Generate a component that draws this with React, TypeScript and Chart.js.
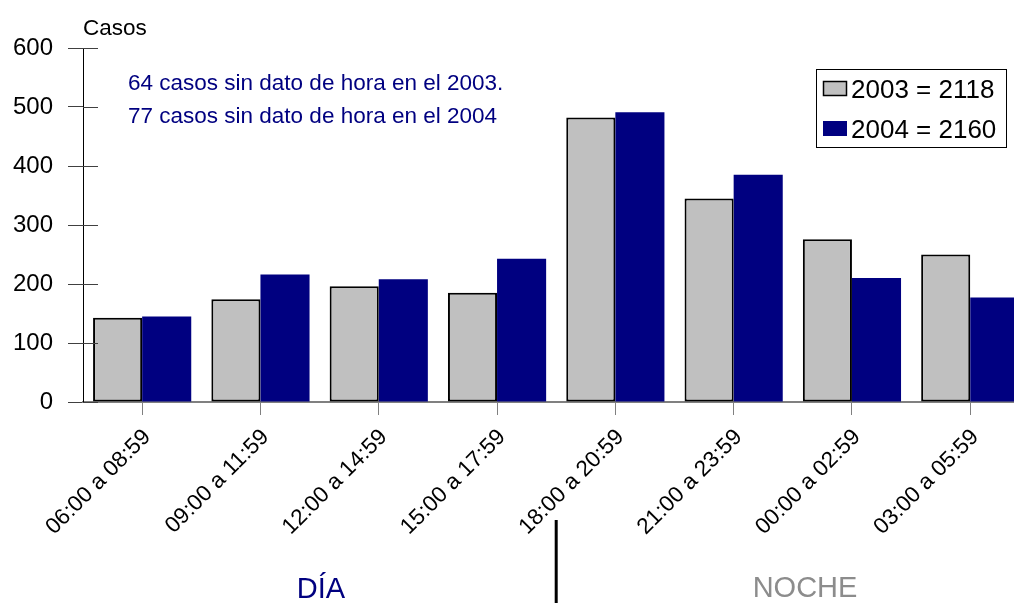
import React, { useEffect, useRef } from "react";
import { Chart, registerables } from "chart.js";

Chart.register(...registerables);

const categories = [
  "06:00 a 08:59",
  "09:00 a 11:59",
  "12:00 a 14:59",
  "15:00 a 17:59",
  "18:00 a 20:59",
  "21:00 a 23:59",
  "00:00 a 02:59",
  "03:00 a 05:59",
];
const values2003 = [143, 174, 196, 185, 482, 345, 276, 250];
const values2004 = [145, 216, 208, 243, 491, 385, 210, 177];
const seriesLabels = ["2003 = 2118", "2004 = 2160"];
const seriesColors = ["#C0C0C0", "#000080"];
const yTicks = [0, 100, 200, 300, 400, 500, 600];
const yAxisTitle = "Casos";
const notes = [
  "64 casos sin dato de hora en el 2003.",
  "77 casos sin dato de hora en el 2004",
];
const periodLabels = ["DÍA", "NOCHE"];

const FONT = "'Liberation Sans', Arial, sans-serif";

const overlay = {
  id: "overlay",
  afterDraw(chart: any) {
    const ctx = chart.ctx as CanvasRenderingContext2D;
    const area = chart.chartArea;
    const y = chart.scales.y;
    const x = chart.scales.x;
    ctx.save();

    // inner halves of y tick marks
    ctx.strokeStyle = "#404040";
    ctx.lineWidth = 1;
    yTicks.forEach((v) => {
      const py = Math.round(y.getPixelForValue(v)) + 0.5;
      ctx.beginPath();
      ctx.moveTo(area.left, py);
      ctx.lineTo(area.left + 15, py);
      ctx.stroke();
    });

    // axis title
    ctx.fillStyle = "#000";
    ctx.font = `22.5px ${FONT}`;
    ctx.textAlign = "left";
    ctx.textBaseline = "alphabetic";
    ctx.fillText(yAxisTitle, 83, 35);

    // notes
    ctx.fillStyle = "#000080";
    ctx.font = `22.5px ${FONT}`;
    ctx.fillText(notes[0], 128, 90);
    ctx.fillText(notes[1], 128, 123);

    // legend box
    const lx = 816, ly = 69, lw = 190, lh = 78;
    ctx.fillStyle = "#fff";
    ctx.fillRect(lx, ly, lw, lh);
    ctx.strokeStyle = "#000";
    ctx.lineWidth = 1;
    ctx.strokeRect(lx + 0.5, ly + 0.5, lw, lh);
    ctx.font = `26px ${FONT}`;
    seriesLabels.forEach((lab, i) => {
      const sy = 81 + i * 40;
      ctx.fillStyle = seriesColors[i];
      ctx.fillRect(823, sy, 24, 15);
      if (i === 0) {
        ctx.strokeStyle = "#000";
        ctx.lineWidth = 1.5;
        ctx.strokeRect(823.5, sy + 0.5, 23, 14);
      }
      ctx.fillStyle = "#000";
      ctx.fillText(lab, 851, 98 + i * 40);
    });

    // divider between day and night
    const divX = (x.getPixelForValue(3) + x.getPixelForValue(4)) / 2;
    ctx.strokeStyle = "#000";
    ctx.lineWidth = 3;
    ctx.beginPath();
    ctx.moveTo(divX, 520);
    ctx.lineTo(divX, 603);
    ctx.stroke();

    // period labels
    ctx.font = `29px ${FONT}`;
    ctx.textAlign = "center";
    ctx.fillStyle = "#000080";
    ctx.fillText(periodLabels[0], 321, 598);
    ctx.fillStyle = "#8C8C8C";
    ctx.fillText(periodLabels[1], 805, 597);

    ctx.restore();
  },
};

export default function App() {
  const ref = useRef<HTMLCanvasElement>(null);

  useEffect(() => {
    if (!ref.current) return;
    const chart = new Chart(ref.current, {
      type: "bar",
      data: {
        labels: categories,
        datasets: [
          {
            label: seriesLabels[0],
            data: values2003,
            backgroundColor: seriesColors[0],
            borderColor: "#000",
            borderWidth: 2,
            borderSkipped: false,
          },
          {
            label: seriesLabels[1],
            data: values2004,
            backgroundColor: seriesColors[1],
            borderWidth: 0,
          },
        ],
      },
      options: {
        animation: false,
        responsive: false,
        devicePixelRatio: 1,
        layout: { padding: { left: 0, top: 48, right: 10.6, bottom: 0 } },
        datasets: {
          bar: { categoryPercentage: 0.83, barPercentage: 1 },
        },
        plugins: {
          legend: { display: false },
          tooltip: { enabled: false },
          title: { display: false },
        },
        scales: {
          x: {
            afterFit: (s: any) => {
              s.height = 201;
            },
            grid: {
              offset: false,
              drawOnChartArea: false,
              tickLength: 13,
              color: "#808080",
              lineWidth: 1,
            },
            border: { color: "#808080", width: 2 },
            ticks: {
              autoSkip: false,
              maxRotation: 45,
              minRotation: 45,
              padding: 9,
              labelOffset: 5,
              color: "#000",
              font: { family: FONT, size: 22.5 },
            },
          },
          y: {
            min: 0,
            max: 600,
            afterFit: (s: any) => {
              s.width = 83;
            },
            afterBuildTicks: (s: any) => {
              s.ticks = yTicks.map((v) => ({ value: v }));
            },
            grid: {
              drawOnChartArea: false,
              tickLength: 15,
              color: "#404040",
            },
            border: { color: "#000", width: 1 },
            ticks: {
              padding: 15,
              color: "#000",
              font: { family: FONT, size: 24 },
            },
          },
        },
      },
      plugins: [overlay],
    });
    return () => chart.destroy();
  }, []);

  return (
    <div
      style={{
        position: "fixed",
        left: 0,
        top: 0,
        width: 1014,
        height: 603,
        overflow: "hidden",
        background: "#fff",
      }}
    >
      <canvas ref={ref} width={1040} height={603} style={{ display: "block" }} />
    </div>
  );
}
